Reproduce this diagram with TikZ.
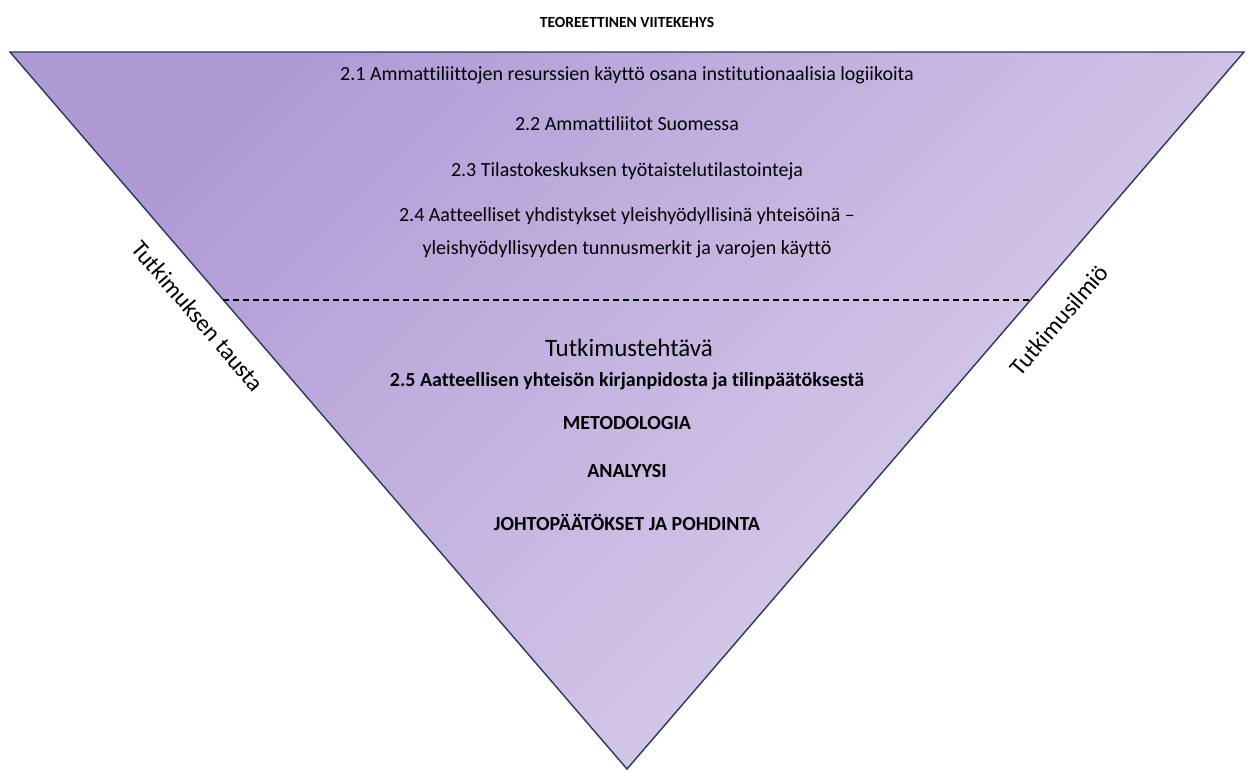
\documentclass[tikz,border=0pt]{standalone}
\usepackage{fontspec}
\setmainfont[Ligatures=NoCommon]{Carlito}
\usetikzlibrary{calc}
\definecolor{edgeblue}{HTML}{243A5E}
\definecolor{purpledark}{HTML}{B09AD6}
\definecolor{purplelight}{HTML}{DDD4EC}
\tikzset{
  item/.style={font=\fontsize{20}{33}\selectfont, align=center},
  itembold/.style={item, font=\fontsize{20}{33}\selectfont\bfseries},
  sidelabel/.style={font=\fontsize{24}{29}\selectfont}
}
\begin{document}
\begin{tikzpicture}[x=1pt,y=-1pt]
  \useasboundingbox (0,0) rectangle (1247,771);

  % triangle
  \coordinate (tl) at (10,52);
  \coordinate (tr) at (1244,52);
  \coordinate (apex) at (627,769);
  \shade[top color=purpledark, bottom color=purplelight, shading angle=45]
    (tl) -- (tr) -- (apex) -- cycle;
  \draw[edgeblue, line width=1.4pt, line join=miter] (tl) -- (tr) -- (apex) -- cycle;

  % divider
  \coordinate (divl) at ($(tl)!0.3459!(apex)$);
  \coordinate (divr) at ($(tr)!0.3459!(apex)$);
  \draw[line width=1.3pt, dash pattern=on 6pt off 4pt] (divl) -- (divr);

  \node[itembold, font=\fontsize{15.5}{18}\selectfont\bfseries] (title) at (627,22) {TEOREETTINEN VIITEKEHYS};

  \node[item] (s21) at (627,75) {2.1 Ammattiliittojen resurssien käyttö osana institutionaalisia logiikoita};
  \node[item] (s22) at (627,124) {2.2 Ammattiliitot Suomessa};
  \node[item] (s23) at (627,171) {2.3 Tilastokeskuksen työtaistelutilastointeja};
  \node[item] (s24) at (627,233) {2.4 Aatteelliset yhdistykset yleishyödyllisinä yhteisöinä –\\yleishyödyllisyyden tunnusmerkit ja varojen käyttö};

  \node[item, font=\fontsize{25}{30}\selectfont] (task) at (629,348) {Tutkimustehtävä};
  \node[itembold] (s25) at (627,381) {2.5 Aatteellisen yhteisön kirjanpidosta ja tilinpäätöksestä};
  \node[itembold] (method) at (627,423) {METODOLOGIA};
  \node[itembold] (analysis) at (627,471) {ANALYYSI};
  \node[itembold] (concl) at (627,522) {JOHTOPÄÄTÖKSET JA POHDINTA};

  \node[sidelabel, rotate=-49.3] (bg) at (198,316) {Tutkimuksen tausta};
  \node[sidelabel, rotate=49.3] (phen) at (1059,320) {Tutkimusilmiö};
\end{tikzpicture}
\end{document}
